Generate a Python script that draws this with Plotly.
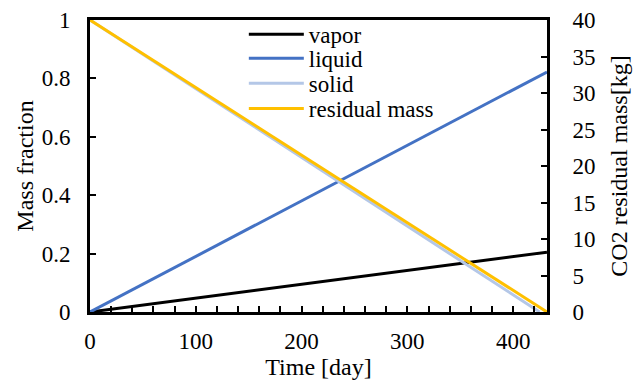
import plotly.graph_objects as go

time_days = [0, 432]
vapor = [0, 0.205]
liquid = [0, 0.822]
solid_time = [0, 425]
solid = [1, 0]
residual_time = [0, 432]
residual_mass = [40, 0]

FONT = "Liberation Serif"
LEG_Y = [0.951, 0.869, 0.783, 0.697]

fig = go.Figure()
fig.add_trace(go.Scatter(x=time_days, y=vapor, mode="lines", name="vapor",
                         line=dict(color="#000000", width=3), legend="legend"))
fig.add_trace(go.Scatter(x=time_days, y=liquid, mode="lines", name="liquid",
                         line=dict(color="#4472C4", width=3), legend="legend2"))
fig.add_trace(go.Scatter(x=solid_time, y=solid, mode="lines", name="solid",
                         line=dict(color="#B4C7E7", width=3), legend="legend3"))
fig.add_trace(go.Scatter(x=residual_time, y=residual_mass, mode="lines", name="residual mass",
                         line=dict(color="#FFC000", width=3), yaxis="y2", legend="legend4"))

axis_common = dict(showgrid=False, zeroline=False, showline=True, linecolor="black",
                   linewidth=3, ticks="inside", tickcolor="black", tickwidth=1.5, ticklen=6,
                   automargin=True)


def leg(y):
    return dict(x=0.3366, y=y, xanchor="left", yanchor="middle", bgcolor="rgba(0,0,0,0)",
                font=dict(family=FONT, size=23, color="black"), itemwidth=55)


fig.update_layout(
    width=636, height=383,
    margin=dict(l=90, r=89, t=20, b=71, autoexpand=False),
    plot_bgcolor="white", paper_bgcolor="white",
    font=dict(family=FONT, size=24, color="black"),
    showlegend=True,
    legend=leg(LEG_Y[0]), legend2=leg(LEG_Y[1]), legend3=leg(LEG_Y[2]), legend4=leg(LEG_Y[3]),
    xaxis=dict(range=[0, 432], tickvals=[0, 100, 200, 300, 400], mirror=True,
               ticklabelstandoff=6, tickfont=dict(family=FONT, size=23, color="black"),
               title=dict(text="Time [day]", font=dict(family=FONT, size=24), standoff=3),
               minor=dict(dtick=20, tick0=0, ticks="inside", ticklen=6, tickwidth=1.5, tickcolor="black"),
               **axis_common),
    yaxis=dict(range=[0, 1], tickvals=[0, 0.2, 0.4, 0.6, 0.8, 1], ticktext=["0", "0.2", "0.4", "0.6", "0.8", "1"],
               mirror=True, ticklabelstandoff=12, tickfont=dict(family=FONT, size=23, color="black"),
               title=dict(text="Mass fraction", font=dict(family=FONT, size=24), standoff=2),
               **axis_common),
    yaxis2=dict(range=[0, 40], tickvals=list(range(0, 41, 5)), overlaying="y", side="right",
                ticklabelstandoff=18, tickfont=dict(family=FONT, size=23, color="black"),
                title=dict(text="CO2 residual mass[kg]", font=dict(family=FONT, size=24), standoff=16),
                **axis_common),
)

fig.write_html("out.html")
